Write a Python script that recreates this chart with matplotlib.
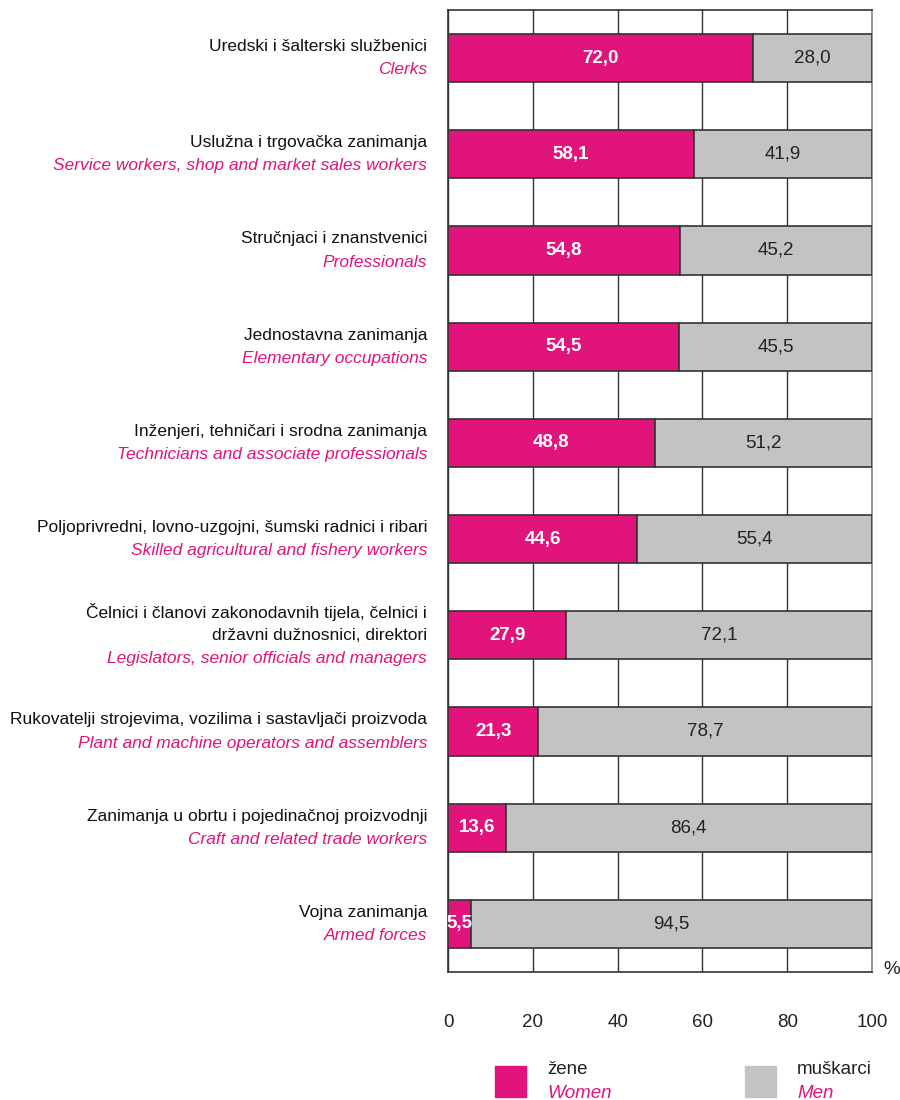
import matplotlib.pyplot as plt
from matplotlib.patches import Rectangle

# data, top to bottom
labels_hr = [
    "Uredski i šalterski službenici",
    "Uslužna i trgovačka zanimanja",
    "Stručnjaci i znanstvenici",
    "Jednostavna zanimanja",
    "Inženjeri, tehničari i srodna zanimanja",
    "Poljoprivredni, lovno-uzgojni, šumski radnici i ribari",
    "Čelnici i članovi zakonodavnih tijela, čelnici i\ndržavni dužnosnici, direktori",
    "Rukovatelji strojevima, vozilima i sastavljači proizvoda",
    "Zanimanja u obrtu i pojedinačnoj proizvodnji",
    "Vojna zanimanja",
]
labels_en = [
    "Clerks",
    "Service workers, shop and market sales workers",
    "Professionals",
    "Elementary occupations",
    "Technicians and associate professionals",
    "Skilled agricultural and fishery workers",
    "Legislators, senior officials and managers",
    "Plant and machine operators and assemblers",
    "Craft and related trade workers",
    "Armed forces",
]
women = [72.0, 58.1, 54.8, 54.5, 48.8, 44.6, 27.9, 21.3, 13.6, 5.5]
men = [28.0, 41.9, 45.2, 45.5, 51.2, 55.4, 72.1, 78.7, 86.4, 94.5]
xticks = [0, 20, 40, 60, 80, 100]

PINK = "#e0147a"
GRAY = "#c3c3c3"
plt.rcParams["font.family"] = ["Liberation Sans", "DejaVu Sans"]

def fmt(v):
    return f"{v:.1f}".replace(".", ",")

fig = plt.figure(figsize=(9, 11), dpi=100)
ax = fig.add_axes([448 / 900, 1 - 972 / 1100, 424 / 900, 962 / 1100])

n = len(women)
ys = list(range(n))
ax.barh(ys, women, height=0.5, color=PINK, edgecolor="#333333", linewidth=1.2, zorder=3)
ax.barh(ys, men, left=women, height=0.5, color=GRAY, edgecolor="#333333", linewidth=1.2, zorder=3)

for y, w, m in zip(ys, women, men):
    ax.text(w / 2, y, fmt(w), ha="center", va="center", color="white",
            fontsize=13.5, fontweight="bold", zorder=4)
    ax.text(w + m / 2, y, fmt(m), ha="center", va="center", color="#222222",
            fontsize=13.5, zorder=4)

ax.set_xlim(0, 100)
ax.set_ylim(n - 0.5, -0.5)
ax.set_xticks(xticks)
ax.set_xticklabels([str(t) for t in xticks], fontsize=13.5, color="#222222")
ax.set_yticks([])
ax.tick_params(axis="x", length=0, pad=30)
ax.grid(axis="x", color="#333333", linewidth=1, zorder=0)
for s in ax.spines.values():
    s.set_color("#333333")
    s.set_linewidth(1.2)
ax.spines["right"].set_color("#888888")

# category labels, lines centred on each bar
step = 16.8
for y, hr, en in zip(ys, labels_hr, labels_en):
    lines = [(t, "#111111", "normal") for t in hr.split("\n")] + [(en, PINK, "italic")]
    k = len(lines)
    for i, (t, c, st) in enumerate(lines):
        off = ((k - 1) / 2 - i) * step
        ax.annotate(t, xy=(0, y), xycoords=("axes fraction", "data"),
                    xytext=(-15, off), textcoords="offset points",
                    ha="right", va="center", fontsize=12.5, color=c, style=st,
                    annotation_clip=False)

fig.text(892 / 900, 1 - 970 / 1100, "%", ha="center", va="center", fontsize=13.5, color="#222222")

# legend
for x0, name_hr, name_en, col in [(495, "žene", "Women", PINK), (745, "muškarci", "Men", GRAY)]:
    fig.patches.append(Rectangle((x0 / 900, 1 - 1097 / 1100), 31 / 900, 31 / 1100,
                                 transform=fig.transFigure, color=col))
    fig.text((x0 + 52) / 900, 1 - 1070 / 1100, name_hr, ha="left", va="center",
             fontsize=13.5, color="#222222")
    fig.text((x0 + 52) / 900, 1 - 1093 / 1100, name_en, ha="left", va="center",
             fontsize=13.5, color=PINK, style="italic")

fig.savefig("out.png", dpi=100)
